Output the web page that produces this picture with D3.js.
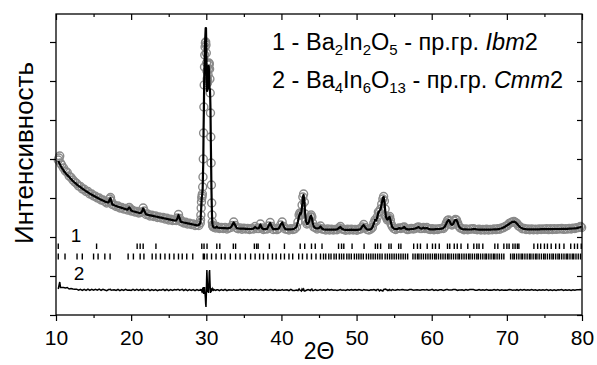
<!DOCTYPE html>
<html>
<head>
<meta charset="utf-8">
<script src="https://cdn.jsdelivr.net/npm/d3@7"></script>
<style>
  body { margin: 0; background: #fff; }
  text { font-family: "Liberation Sans", Arial, sans-serif; white-space: pre; }
</style>
</head>
<body>
<div id="chart"></div>
<script>
// profile rows: [2theta, I_obs, I_calc]  (arbitrary units)
const profile = [
  [10.30,155,154],[10.40,157,152.5],[10.50,159,151],[10.60,152,149.5],[10.75,150,147.5],
  [11.00,147,144.5],[11.25,144,142],[11.50,142.5,140],[11.75,139,138],[12.00,137.5,136],
  [12.25,135,134],[12.50,133,132.3],[12.75,131.5,130.7],[13.00,129,129.2],[13.25,128.5,127.8],
  [13.50,126,126.4],[13.75,125.8,125.1],[14.00,123.5,123.8],[14.25,123.5,122.6],[14.50,121,121.4],
  [14.75,121,120.3],[15.00,119,119.2],[15.25,118.8,118.2],[15.50,117,117.2],[15.75,117,116.2],
  [16.00,115,115.3],[16.25,115,114.4],[16.50,113.5,113.5],[16.75,112,112.7],[17.00,113,112.6],
  [17.15,116,115.5],[17.25,117.5,116.8],[17.35,114,114.2],[17.50,110.5,110.6],[17.75,110,109.7],
  [18.00,108.5,109],[18.25,109,108.3],[18.50,107,107.7],[18.75,107.5,107.1],[19.00,106,106.5],
  [19.25,106.5,105.9],[19.50,105,105.3],[19.75,107.5,107.5],[19.90,106,106.2],[20.00,104,104.5],
  [20.25,104.5,103.8],[20.50,103,103.3],[20.75,103.5,102.8],[21.00,102,102.3],[21.25,102.5,101.8],
  [21.45,103,103.5],[21.60,107,106.5],[21.75,104,104.2],[22.00,100.5,100.6],[22.25,100.8,100.1],
  [22.50,99,99.7],[22.75,99.8,99.3],[23.00,98.5,98.9],[23.25,99,98.5],[23.50,97.5,98.1],
  [23.75,98,97.7],[24.00,97,97.3],[24.25,97.5,96.9],[24.50,96,96.5],[24.75,96.8,96.1],
  [25.00,95,95.7],[25.25,95.8,95.3],[25.50,94.5,94.9],[25.75,95,94.5],[26.00,94.5,94.5],
  [26.15,97,96.5],[26.30,100.5,100],[26.45,96.5,96.8],[26.60,93.5,93.4],[26.80,93.5,92.9],
  [27.00,92,92.5],[27.25,92.8,92.1],[27.50,91,91.7],[27.75,91.8,91.3],[28.00,90.5,90.9],
  [28.25,91,90.5],[28.50,89.5,90.1],[28.75,90.2,89.7],[29.00,89.5,90],
  // main reflection
  [29.20,92,92],[29.24,95,94],[29.28,100,101],[29.32,107,106],[29.36,113,113],
  [29.40,117,118],[29.44,119,119],[29.48,121,123],[29.52,128,126],[29.56,138,141],
  [29.60,156,153],[29.64,182,186],[29.68,208,206],[29.72,230,233],[29.76,248,245],
  [29.80,260,262],[29.84,268,272],[29.88,272,280],[29.92,273,287],[29.96,270,287],
  [30.00,262,268],[30.04,252,242],[30.08,244,224],[30.12,236,224],[30.16,232,228],
  [30.20,234,236],[30.24,240,238],[30.28,246,249],[30.32,250,249],[30.36,252,244],
  [30.40,251,233],[30.44,246,226],[30.48,236,226],[30.52,222,219],[30.56,202,205],
  [30.60,178,176],[30.64,152,154],[30.68,130,129],[30.72,112,113],[30.76,100,100],
  [30.80,93,92],[30.84,90,90],[30.88,89,89],[30.92,88.5,88],[30.96,88,88],
  [31.00,88,87.5],[31.25,87,87.4],[31.40,88.5,88.3],[31.55,87.5,87.3],[31.75,86.5,87.1],
  [32.00,87.5,87],[32.25,86.5,86.9],[32.50,87.5,86.8],[32.75,86,86.7],[33.00,87,86.8],
  [33.25,87.5,87.5],[33.45,89.5,89.8],[33.65,93,92.5],[33.85,89.5,89.8],[34.05,87,87],
  [34.25,86.3,86.5],[34.50,87,86.4],[34.75,85.8,86.3],[35.00,86.8,86.3],[35.25,86,86.2],
  [35.50,86.5,86.1],[35.75,85.5,86],[36.00,86.5,86],[36.25,86,86.3],[36.50,88.5,88],
  [36.75,86.5,86.5],[37.00,86.5,86.8],[37.20,91,90.5],[37.40,87,87],[37.60,85.5,85.9],
  [37.85,86.3,85.8],[38.10,86,86.2],[38.30,89,89.2],[38.50,92.5,92],[38.70,88.5,88.3],
  [38.90,85.5,85.9],[39.15,86.3,85.8],[39.40,85.4,85.8],[39.65,86.5,86.5],[39.90,90,90.3],
  [40.10,93,92.5],[40.30,88.5,88.8],[40.50,86,86],[40.75,85.9,85.6],[41.00,85,85.6],
  [41.25,86.3,85.7],[41.50,85.5,85.9],[41.75,86,86.5],[42.00,88,88],[42.20,93,93.5],
  [42.35,100,99],[42.45,102,102],[42.55,100,100.5],[42.65,102,103],[42.75,110,109],
  [42.85,118,118],[42.95,121,120],[43.05,113,114],[43.15,101,102],[43.25,94,94.5],
  [43.40,91,91],[43.55,92,91.5],[43.70,94,94],[43.85,98,98.5],[43.95,100,99.5],
  [44.05,98,97],[44.15,92,92.5],[44.30,88,88.5],[44.50,87.5,87],[44.75,86,86.5],
  [45.00,87,87],[45.20,89,88.5],[45.40,86,86.5],[45.65,85.8,85.5],[45.90,85,85.4],
  [46.15,86,85.4],[46.40,85,85.3],[46.65,85.8,85.3],[46.90,85,85.3],[47.15,85.5,85.4],
  [47.40,85.2,85.6],[47.65,87,87],[47.85,88.5,88],[48.05,86,86.3],[48.30,85.5,85.4],
  [48.55,84.8,85.2],[48.80,85.7,85.2],[49.05,85,85.1],[49.30,85.8,85.3],[49.55,85,85.2],
  [49.80,85.6,85.1],[50.05,84.8,85.1],[50.30,85.7,85.3],[50.55,86,86],[50.75,88,88.5],
  [50.95,90.5,90],[51.15,87.5,87.5],[51.40,85.5,85.6],[51.65,85,85.4],[51.90,86,85.8],
  [52.10,87.5,87.5],[52.30,92,91.5],[52.45,95,95],[52.60,94,94.5],[52.75,98,97.5],
  [52.90,103,102.5],[53.05,103,104],[53.20,106,106],[53.35,111,111.5],[53.50,116,117],
  [53.60,118.5,118],[53.70,114,113.5],[53.80,106,105],[53.90,99,98.5],[54.00,97,96.5],
  [54.10,95,95.5],[54.20,96,96],[54.30,97,97.5],[54.40,98.5,98],[54.50,95,95],
  [54.60,91,91.5],[54.75,88.5,88],[54.95,86.5,86.5],[55.20,85.5,85.8],[55.45,86.5,86],
  [55.70,87,87],[55.90,86.5,86.3],[56.15,87.5,87],[56.35,88,88],[56.55,86.3,86.3],
  [56.80,85.4,85.6],[57.05,86,85.6],[57.30,86.5,86],[57.55,86,86.2],[57.80,86.5,86.5],
  [58.05,87.5,87.3],[58.25,88,88],[58.45,86.5,86.8],[58.70,86.5,86.3],[58.90,87.5,87.3],
  [59.10,86.5,86.6],[59.35,87.5,87],[59.55,86,86.2],[59.80,85.5,85.6],[60.05,86.3,85.6],
  [60.30,85.2,85.6],[60.55,86,85.8],[60.80,85.5,86],[61.05,86.3,86],[61.30,86.5,86.3],
  [61.55,86.5,87],[61.75,88.5,88.5],[61.95,92,91.5],[62.10,94.5,94],[62.25,95,95],
  [62.40,93.5,93.5],[62.55,91,91],[62.70,90,90],[62.85,91.5,91],[63.00,94,93.5],
  [63.15,95.5,95],[63.30,95,95],[63.45,92,92.5],[63.60,89,89],[63.80,87,87],
  [64.05,86.3,86],[64.30,85.3,85.7],[64.55,86,85.6],[64.80,85.2,85.5],[65.05,85.9,85.5],
  [65.30,86,85.6],[65.55,86.3,85.9],[65.80,85.6,85.8],[66.05,85.2,85.5],[66.30,85.8,85.4],
  [66.55,85,85.3],[66.80,85.6,85.3],[67.05,85,85.3],[67.30,85.8,85.3],[67.55,85,85.3],
  [67.80,85.5,85.4],[68.05,85.2,85.5],[68.30,86,85.6],[68.55,85.4,85.7],[68.80,86.3,85.9],
  [69.05,85.8,86.2],[69.30,87,86.7],[69.55,87.2,87.5],[69.80,88.6,88.5],[70.05,89.5,89.8],
  [70.30,91.5,91],[70.55,92.5,92.3],[70.75,93,93.2],[70.95,93.5,93.4],[71.15,92.5,92.8],
  [71.35,91.5,91.2],[71.55,89,89.5],[71.80,88,87.6],[72.05,86.3,86.6],[72.30,86.5,86],
  [72.55,85.5,85.8],[72.80,86,85.7],[73.05,85.3,85.6],[73.30,86,85.6],[73.55,85.3,85.6],
  [73.80,85.8,85.6],[74.05,85.2,85.6],[74.30,86,85.7],[74.55,85.5,85.8],[74.80,86,85.8],
  [75.05,85.6,85.8],[75.30,86.3,85.9],[75.55,85.4,85.9],[75.80,86.2,85.9],[76.05,85.5,85.9],
  [76.30,86.3,86],[76.55,85.6,86],[76.80,86.2,86],[77.05,86,86],[77.30,86.5,86.1],
  [77.55,85.6,86.1],[77.80,86.3,86.2],[78.05,85.9,86.2],[78.30,86.6,86.3],[78.55,86,86.4],
  [78.80,86.8,86.5],[79.05,86.5,86.7],[79.30,87.2,86.9],[79.55,87.5,87.3],[79.80,88.5,88],
  [79.95,87.5,87.6]
];

// Bragg reflection positions (2theta)
const phase1Ticks = [10.3, 15.4, 20.8, 21.2, 21.6, 23.3, 29.4, 29.7, 30.1, 31.4, 31.8, 33.6, 33.9,
  36.4, 36.7, 36.9, 38.4, 40.4, 42.5, 43.1, 44.0, 44.5, 45.4, 47.6, 48.0, 48.3, 49.4, 51.0,
  52.5, 52.8, 53.2, 54.3, 54.6, 55.6, 55.9, 57.6, 58.1, 58.5, 59.4, 60.1, 60.5, 61.0, 62.1,
  62.4, 63.0, 63.4, 63.9, 64.8, 65.6, 66.0, 66.3, 66.8, 68.4, 68.8, 69.6, 70.0, 70.3, 70.8,
  71.1, 71.4, 71.6, 73.6, 74.1, 74.5, 75.0, 75.4, 75.9, 76.5, 77.0, 77.6, 78.5, 79.0, 79.4, 79.9];

const phase2Ticks = [10.3, 11.2, 12.8, 13.5, 15.0, 15.6, 16.5, 17.2, 19.6, 20.3, 21.2, 21.7, 22.8,
  23.3, 23.9, 24.5, 25.1, 25.7, 26.3, 26.8, 27.4, 28.2, 29.6, 29.75, 30.1, 30.7, 31.3, 32.0,
  32.5, 33.2, 33.9, 34.5, 35.2, 35.9, 36.5, 37.1, 37.6, 38.2, 38.8, 39.3, 39.9, 40.4, 41.0,
  41.5, 42.3, 42.8, 43.4, 44.0, 44.6, 45.2, 45.6, 45.9, 46.3, 46.6, 47.0, 47.3, 47.7, 48.0,
  48.3, 48.7, 49.0, 49.3, 49.7, 50.0, 50.3, 50.6, 50.9, 51.3, 51.6, 51.9, 52.2, 52.5, 52.8,
  53.1, 53.4, 53.8, 54.1, 54.4, 54.7, 55.0, 55.3, 55.6, 55.9, 56.2, 56.5, 56.8, 57.5, 57.8,
  58.1, 58.3, 58.6, 58.9, 59.2, 59.5, 59.8, 60.1, 60.4, 60.6, 60.9, 61.2, 61.5, 61.8, 62.1,
  62.3, 62.6, 62.9, 63.2, 63.5, 63.7, 64.0, 64.3, 64.6, 64.9, 65.1, 65.4, 65.7, 66.0, 66.2,
  66.5, 66.8, 67.1, 67.3, 67.6, 67.9, 68.2, 68.4, 68.7, 69.0, 69.3, 69.6, 70.5, 70.8, 71.0,
  71.3, 71.6, 71.9, 72.1, 72.4, 72.7, 73.0, 73.2, 73.5, 73.8, 74.0, 74.3, 74.6, 74.9, 75.1,
  75.4, 75.7, 76.0, 76.2, 76.5, 76.8, 77.0, 77.3, 77.6, 77.9, 78.1, 78.4, 78.7, 78.9, 79.2,
  79.5, 79.8];

const xTicks = [10, 20, 30, 40, 50, 60, 70, 80];
const xMinorTicks = [15, 25, 35, 45, 55, 65, 75];
const yTicks = [0, 39, 78, 117, 156, 195, 234, 273];

// legend pieces: [text, style]
const legend1 = [["1 - Ba"], ["2", "sub"], ["In"], ["2", "sub"], ["O"], ["5", "sub"], [" - пр.гр. "], ["Ibm", "it"], ["2"]];
const legend2 = [["2 - Ba"], ["4", "sub"], ["In"], ["6", "sub"], ["O"], ["13", "sub"], [" - пр.гр. "], ["Cmm", "it"], ["2"]];

const W = 597, H = 365;
const margin = {top: 14, right: 15, bottom: 50, left: 56};
const diffBase = 25;          // offset of difference curve
const row1 = [66, 71.5], row2 = [55.5, 61.5];

const svg = d3.select("#chart").append("svg")
  .attr("width", W).attr("height", H);

const x = d3.scaleLinear().domain([10, 80]).range([margin.left, W - margin.right]);
const y = d3.scaleLinear().domain([0, 301]).range([H - margin.bottom, margin.top]);

// observed points
svg.append("g")
  .selectAll("circle")
  .data(profile)
  .join("circle")
  .attr("cx", d => x(d[0]))
  .attr("cy", d => y(d[1]))
  .attr("r", 4)
  .attr("fill", "none")
  .attr("stroke", "#8a8a8a")
  .attr("stroke-width", 1.4);

// calculated
svg.append("path")
  .datum(profile)
  .attr("fill", "none")
  .attr("stroke", "#000")
  .attr("stroke-width", 2.2)
  .attr("stroke-linejoin", "round")
  .attr("d", d3.line().x(d => x(d[0])).y(d => y(d[2])));

// difference
svg.append("path")
  .datum(profile)
  .attr("fill", "none")
  .attr("stroke", "#000")
  .attr("stroke-width", 1.5)
  .attr("d", d3.line().x(d => x(d[0])).y(d => y(diffBase + d[1] - d[2])));

// Bragg ticks
[[phase1Ticks, row1], [phase2Ticks, row2]].forEach(([list, r]) => {
  svg.append("g")
    .selectAll("line")
    .data(list)
    .join("line")
    .attr("x1", d => x(d)).attr("x2", d => x(d))
    .attr("y1", y(r[0])).attr("y2", y(r[1]))
    .attr("stroke", "#000")
    .attr("stroke-width", 1.4);
});

svg.append("text").attr("x", 76).attr("y", 242).attr("text-anchor", "middle")
  .attr("font-size", 19).text("1");
svg.append("text").attr("x", 79).attr("y", 280).attr("text-anchor", "middle")
  .attr("font-size", 19).text("2");

// axes
const pBottom = H - margin.bottom, pTop = margin.top, pLeft = margin.left, pRight = W - margin.right;

const xAxis = svg.append("g")
  .attr("transform", `translate(0,${pBottom})`)
  .call(d3.axisBottom(x).tickValues(xTicks).tickSize(6).tickSizeOuter(0).tickPadding(9));
xAxis.selectAll("text").attr("font-size", 21).attr("fill", "#000")
  .style("font-family", "'Liberation Sans', Arial, sans-serif");

svg.append("g")
  .attr("transform", `translate(0,${pBottom})`)
  .call(d3.axisBottom(x).tickValues(xMinorTicks).tickSize(3).tickSizeOuter(0).tickFormat(""));

svg.append("g")
  .attr("transform", `translate(0,${pTop})`)
  .call(d3.axisTop(x).tickValues(xTicks).tickSize(-6).tickSizeOuter(0).tickFormat(""));
svg.append("g")
  .attr("transform", `translate(0,${pTop})`)
  .call(d3.axisTop(x).tickValues(xMinorTicks).tickSize(-3).tickSizeOuter(0).tickFormat(""));

svg.append("g")
  .attr("transform", `translate(${pLeft},0)`)
  .call(d3.axisLeft(y).tickValues(yTicks).tickSize(6).tickSizeOuter(0).tickFormat(""));
svg.append("g")
  .attr("transform", `translate(${pRight},0)`)
  .call(d3.axisRight(y).tickValues(yTicks).tickSize(-5).tickSizeOuter(0).tickFormat(""));

svg.selectAll(".domain").remove();
svg.selectAll(".tick line").attr("stroke", "#000").attr("stroke-width", 1.2);

svg.append("rect")
  .attr("x", pLeft).attr("y", pTop)
  .attr("width", pRight - pLeft).attr("height", pBottom - pTop)
  .attr("fill", "none").attr("stroke", "#000").attr("stroke-width", 1.3);

// axis titles
svg.append("text")
  .attr("transform", "rotate(-90)")
  .attr("x", -153).attr("y", 33)
  .attr("text-anchor", "middle")
  .attr("font-size", 26)
  .text("Интенсивность");

svg.append("text")
  .attr("x", (pLeft + pRight) / 2).attr("y", 359)
  .attr("text-anchor", "middle")
  .attr("font-size", 23)
  .text("2Θ");

// legend
function legendLine(parts, yPos) {
  const t = svg.append("text").attr("x", 272).attr("y", yPos).attr("font-size", 23.5);
  let shifted = false;
  parts.forEach(([s, style]) => {
    const sp = t.append("tspan").text(s);
    if (style === "sub") {
      sp.attr("font-size", 15).attr("dy", shifted ? 0 : 5);
      shifted = true;
    } else {
      if (shifted) sp.attr("dy", -5);
      shifted = false;
      if (style === "it") sp.attr("font-style", "italic");
    }
  });
}
legendLine(legend1, 50);
legendLine(legend2, 88);
</script>
</body>
</html>
